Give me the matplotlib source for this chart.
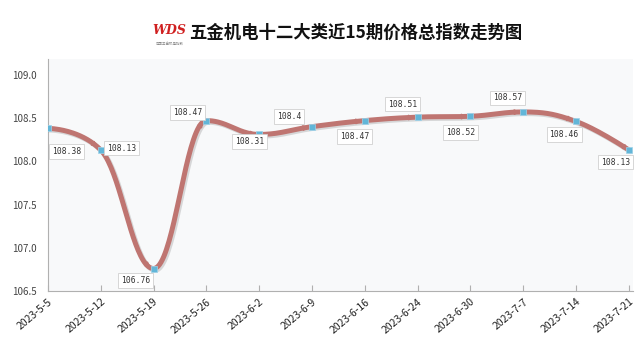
import matplotlib.pyplot as plt
import matplotlib.patheffects as pe
import numpy as np

plt.rcParams['font.family'] = ['Noto Sans CJK SC', 'DejaVu Sans']

dates = ['2023-5-5', '2023-5-12', '2023-5-19', '2023-5-26', '2023-6-2', '2023-6-9',
         '2023-6-16', '2023-6-24', '2023-6-30', '2023-7-7', '2023-7-14', '2023-7-21']
values = [108.38, 108.13, 106.76, 108.47, 108.31, 108.4,
          108.47, 108.51, 108.52, 108.57, 108.46, 108.13]
labels = ['108.38', '108.13', '106.76', '108.47', '108.31', '108.4',
          '108.47', '108.51', '108.52', '108.57', '108.46', '108.13']
# label offsets in pixels (dx, dy) relative to each point
label_off = [(19, -23), (21, 2), (-18, -12), (-19, 8), (-10, -7), (-23, 10),
             (-10, -16), (-15, 13), (-10, -16), (-16, 14), (-12, -13), (-13, -12)]
title = '五金机电十二大类近15期价格总指数走势图'


def spline(x, y, sm=1.5, n=40):
    # highcharts-like spline: bezier with clamped control points
    x = np.asarray(x, float)
    y = np.asarray(y, float)
    lx, ly = x.copy(), y.copy()
    rx, ry = x.copy(), y.copy()
    d = sm + 1
    for i in range(1, len(x) - 1):
        lx[i] = (sm * x[i] + x[i - 1]) / d
        ly[i] = (sm * y[i] + y[i - 1]) / d
        rx[i] = (sm * x[i] + x[i + 1]) / d
        ry[i] = (sm * y[i] + y[i + 1]) / d
        c = (ry[i] - ly[i]) * (rx[i] - x[i]) / (rx[i] - lx[i]) + y[i] - ry[i]
        ly[i] += c
        ry[i] += c
        if ly[i] > y[i - 1] and ly[i] > y[i]:
            ly[i] = max(y[i - 1], y[i]); ry[i] = 2 * y[i] - ly[i]
        elif ly[i] < y[i - 1] and ly[i] < y[i]:
            ly[i] = min(y[i - 1], y[i]); ry[i] = 2 * y[i] - ly[i]
        if ry[i] > y[i + 1] and ry[i] > y[i]:
            ry[i] = max(y[i + 1], y[i]); ly[i] = 2 * y[i] - ry[i]
        elif ry[i] < y[i + 1] and ry[i] < y[i]:
            ry[i] = min(y[i + 1], y[i]); ly[i] = 2 * y[i] - ry[i]
    xs, ys = [], []
    t = np.linspace(0, 1, n, endpoint=False)
    for i in range(len(x) - 1):
        a, b = (1 - t), t
        xs.append(a**3 * x[i] + 3 * a**2 * b * rx[i] + 3 * a * b**2 * lx[i + 1] + b**3 * x[i + 1])
        ys.append(a**3 * y[i] + 3 * a**2 * b * ry[i] + 3 * a * b**2 * ly[i + 1] + b**3 * y[i + 1])
    xs.append([x[-1]])
    ys.append([y[-1]])
    return np.concatenate(xs), np.concatenate(ys)


x = np.arange(len(values))
sx, sy = spline(x, values)

fig = plt.figure(figsize=(6.39, 3.4), dpi=100)
ax = fig.add_axes([0.075, 0.144, 0.915, 0.682])
ax.set_facecolor('#f8f9fa')

line_col = '#bf7571'
ax.plot(sx, sy, color=line_col, lw=3.6, solid_capstyle='round', zorder=3,
        path_effects=[pe.SimpleLineShadow(offset=(1.2, -1.2), shadow_color='#888888', alpha=0.3),
                      pe.Normal()])

# small arrow heads just before each point
for i in range(1, len(x)):
    j = i * 40
    ax.annotate('', xy=(sx[j - 2], sy[j - 2]), xytext=(sx[j - 6], sy[j - 6]),
                arrowprops=dict(arrowstyle='-|>', color=line_col, lw=1,
                                mutation_scale=8, shrinkA=0, shrinkB=0), zorder=3)

ax.scatter(x, values, marker='s', s=14, color='#62b6d8', edgecolors='#9fd3ea',
           linewidths=0.5, zorder=4)

for xi, v, lab, (dx, dy) in zip(x, values, labels, label_off):
    ax.annotate(lab, (xi, v), xytext=(dx, dy), textcoords='offset pixels',
                ha='center', va='center', fontsize=5.8, family='DejaVu Sans Mono',
                color='#333333',
                bbox=dict(boxstyle='square,pad=0.35', fc='white', ec='#d0d0d0', lw=0.6),
                zorder=5)

ax.set_xlim(0, 11.07)
ax.set_ylim(106.5, 109.18)
ax.set_yticks([106.5, 107.0, 107.5, 108.0, 108.5, 109.0])
ax.set_yticklabels(['106.5', '107.0', '107.5', '108.0', '108.5', '109.0'])
ax.set_xticks(x)
ax.set_xticklabels(dates, rotation=40, ha='right', rotation_mode='anchor')
ax.tick_params(axis='x', direction='in', length=4, color='#b0b0b0', labelsize=7.5,
               labelcolor='#222222', pad=4)
ax.tick_params(axis='y', length=0, labelsize=7, labelcolor='#444444', pad=8)
for s in ['top', 'right']:
    ax.spines[s].set_visible(False)
ax.spines['left'].set_color('#b0b0b0')
ax.spines['bottom'].set_color('#b0b0b0')

# logo and title
fig.text(0.265, 0.91, 'WDS', color='#d02020', fontsize=9, fontweight='bold',
         style='italic', family='DejaVu Serif', ha='center', va='center')
fig.text(0.265, 0.872, '中国五金机电指数', color='#888888', fontsize=2.5,
         ha='center', va='center')
fig.text(0.557, 0.905, title, fontsize=12.5, fontweight='bold', color='#111111',
         ha='center', va='center')

fig.savefig('out.png', dpi=100)
